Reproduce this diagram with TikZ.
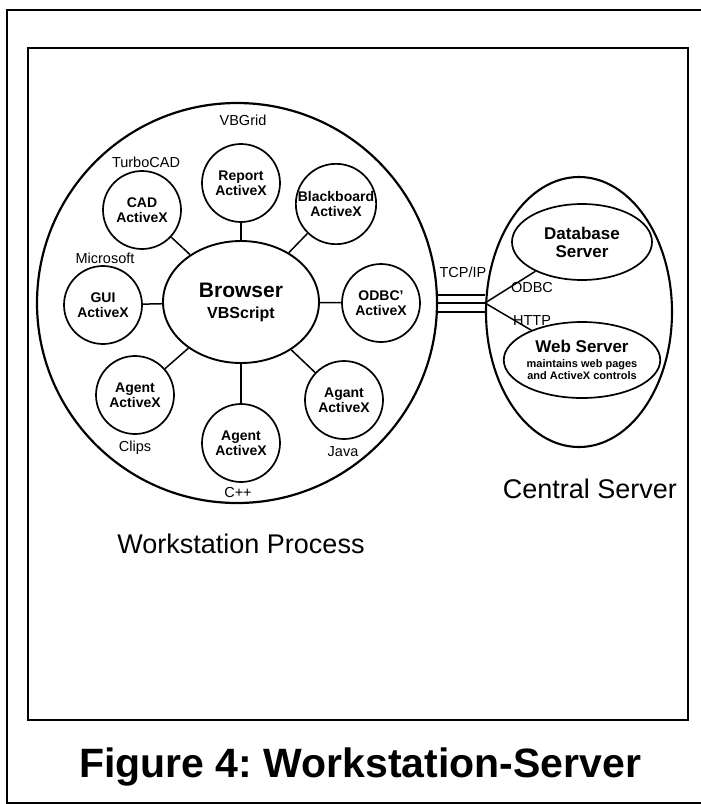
\documentclass[tikz,border=0pt]{standalone}
\usepackage{fontspec}
\setmainfont{Liberation Sans}
\usetikzlibrary{shapes.geometric,calc}
\tikzset{
  frame/.style={line width=2.4pt},
  unit/.style={circle, draw, line width=1.7pt, minimum size=78pt, inner sep=0pt,
    align=center, font=\fontsize{14}{15}\selectfont\bfseries},
  tag/.style={anchor=base, inner sep=0pt, font=\fontsize{14.5}{16}\selectfont},
  link/.style={line width=1.5pt},
  heading/.style={anchor=base, inner sep=0pt, font=\fontsize{27}{30}\selectfont},
  srv/.style={ellipse, draw, line width=1.7pt, inner sep=0pt, align=center},
}
\begin{document}
\frenchspacing
\begin{tikzpicture}[x=1pt, y=-1pt]
  \useasboundingbox (0,0) rectangle (701,804);

  % page frame and figure frame
  \draw[frame] (7,806) -- (7,10) -- (703,10);
  \draw[frame] (28,48) rectangle (688,720);
  \draw[line width=1.6pt] (7,803) -- (703,803);

  % workstation process
  \node[circle, draw, line width=2.2pt, minimum size=400pt, inner sep=0pt] (ws) at (237,303) {};
  \node[ellipse, draw, line width=1.9pt, minimum width=156pt, minimum height=122pt,
        inner sep=0pt, align=center, font=\fontsize{21}{21}\selectfont\bfseries]
        (browser) at (241,302)
        {Browser\\{\fontsize{16}{17}\selectfont VBScript}};

  \node[unit] (report) at (241,183) {Report\\ActiveX};
  \node[unit] (cad)    at (142,210) {CAD\\ActiveX};
  \node[unit] (board)  at (336,204) {Blackboard\\ActiveX};
  \node[unit] (gui)    at (103,305) {GUI\\ActiveX};
  \node[unit] (odbc)   at (381,303) {ODBC'\\ActiveX};
  \node[unit] (clips)  at (135,395) {Agent\\ActiveX};
  \node[unit] (cpp)    at (241,443) {Agent\\ActiveX};
  \node[unit] (java)   at (344,400) {Agant\\ActiveX};

  \foreach \u in {report,cad,board,gui,odbc,clips,cpp,java}
    \draw[link] (browser) -- (\u);

  \node[tag] (l-vbgrid) at (243,125) {VBGrid};
  \node[tag] (l-turbo)  at (146,167) {TurboCAD};
  \node[tag] (l-ms)     at (105,263) {Microsoft};
  \node[tag] (l-clips)  at (135,451) {Clips};
  \node[tag] (l-cpp)    at (238,497) {C++};
  \node[tag] (l-java)   at (343,456) {Java};

  \node[heading] (l-ws) at (241,553) {Workstation Process};

  % central server
  \node[ellipse, draw, line width=2.1pt, minimum width=186pt, minimum height=270pt,
        inner sep=0pt] (cs) at (579,312) {};
  \node[srv, minimum width=140pt, minimum height=76pt,
        font=\fontsize{17}{18}\selectfont\bfseries] (db) at (582,242)
        {Database\\Server};
  \node[srv, minimum width=144pt, minimum height=76pt,
        font=\fontsize{11}{12}\selectfont\bfseries] (web) at (582,360)
        {{\fontsize{17}{18}\selectfont Web Server}\\[3pt]
         maintains web pages\\
         and ActiveX controls};

  \node[heading] (l-cs) at (590,498) {Central Server};

  % TCP/IP link between the two sides
  \coordinate (J) at (ws.east -| cs.west);
  \foreach \d in {-8,0,9}
    \draw[link] ([yshift=-\d pt]ws.east) -- ([yshift=-\d pt]J);
  \draw[link] (J) -- (db);
  \draw[link] (J) -- (web);

  \node[tag] (l-tcp)  at (463,277) {TCP/IP};
  \node[tag] (l-odbc) at (532,292) {ODBC};
  \node[tag] (l-http) at (532,325) {HTTP};

  % caption
  \node[anchor=base, inner sep=0pt, font=\fontsize{41}{45}\selectfont\bfseries] (caption)
        at (360,777) {Figure 4: Workstation-Server};
\end{tikzpicture}
\end{document}
